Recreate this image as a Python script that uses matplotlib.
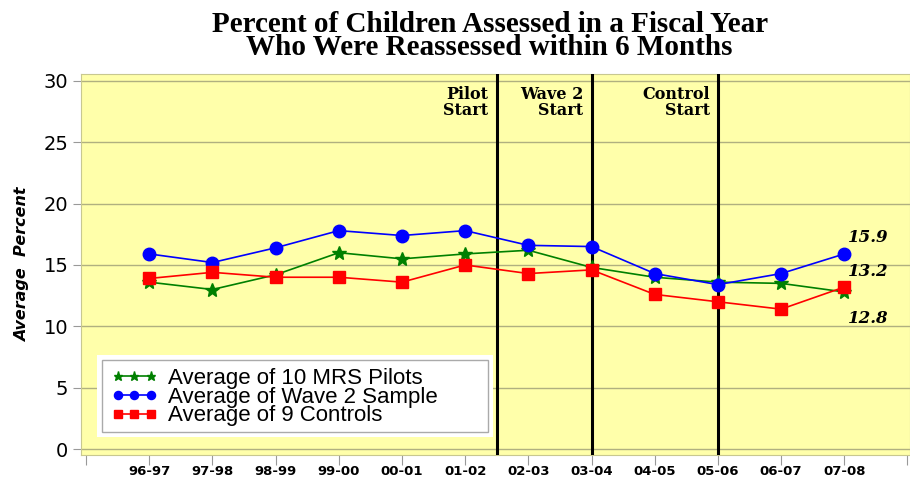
#!/usr/bin/env python3
"""Reassessment within 6 months, by fiscal year."""
import matplotlib

matplotlib.use("Agg", force=True)
import matplotlib.pyplot as plt
from matplotlib.patches import Rectangle
import numpy as np

YEARS = ["96-97", "97-98", "98-99", "99-00", "00-01", "01-02",
         "02-03", "03-04", "04-05", "05-06", "06-07", "07-08"]
PILOTS = [13.6, 13.0, 14.2, 16.0, 15.5, 15.9, 16.2, 14.8, 14.0, 13.6, 13.5, 12.8]
WAVE2 = [15.9, 15.2, 16.4, 17.8, 17.4, 17.8, 16.6, 16.5, 14.3, 13.4, 14.3, 15.9]
CONTROLS = [13.9, 14.4, 14.0, 14.0, 13.6, 15.0, 14.3, 14.6, 12.6, 12.0, 11.4, 13.2]

# vertical markers: position on the year axis and their labels
EVENT_POS = [5.5, 7.0, 9.0]
EVENT_LABELS = ["Pilot\nStart", "Wave 2\nStart", "Control\nStart"]

fig = plt.figure(figsize=(9.1, 4.8), dpi=100)
ax = fig.add_axes([0.089, 0.052, 0.911, 0.794])
ax.set_facecolor("#FFFFAA")
x = np.arange(len(YEARS))

ax.plot(x, PILOTS, color="#008000", marker="*", markersize=10, lw=1.2,
        label="Average of 10 MRS Pilots", zorder=4)
ax.plot(x, WAVE2, color="#0000FF", marker="o", markersize=9, lw=1.2,
        label="Average of Wave 2 Sample", zorder=4)
ax.plot(x, CONTROLS, color="#FF0000", marker="s", markersize=8, lw=1.2,
        label="Average of 9 Controls", zorder=4)

for pos in EVENT_POS:
    ax.axvline(pos, color="black", lw=2.2, zorder=3)
for pos, lab in zip(EVENT_POS, EVENT_LABELS):
    ax.text(pos - 0.13, 29.6, lab, ha="right", va="top", fontsize=11.5,
            fontweight="bold", family="DejaVu Serif", linespacing=0.95)

# end-point labels
last = len(YEARS) - 1
lab_font = dict(fontsize=12, fontweight="bold", style="italic",
                family="DejaVu Serif", ha="left", va="center")
ax.text(last + 0.05, WAVE2[-1] + 1.3, f"{WAVE2[-1]:.1f}", **lab_font)
ax.text(last + 0.05, CONTROLS[-1] + 1.3, f"{CONTROLS[-1]:.1f}", **lab_font)
ax.text(last + 0.05, PILOTS[-1] - 2.2, f"{PILOTS[-1]:.1f}", **lab_font)

ax.set_xlim(-1.08, 12.04)
ax.set_ylim(-0.49, 30.57)
ax.set_yticks(np.arange(0, 31, 5))
ax.set_xticks(np.arange(-1, 13), [""] + YEARS + [""])
ax.tick_params(axis="y", labelsize=14, length=6, color="#999999", pad=3)
ax.tick_params(axis="x", labelsize=9.5, length=7, color="#999999", pad=0.5)
for t in ax.get_xticklabels():
    t.set_fontweight("bold")
ax.grid(axis="y", color="#B0B080", lw=1)
ax.set_axisbelow(True)
for s in ax.spines.values():
    s.set_color("#C8C890")

ax.set_ylabel("Average  Percent", fontsize=11.5, fontweight="bold",
              style="italic", labelpad=10)

fig.suptitle("Percent of Children Assessed in a Fiscal Year\n"
             "Who Were Reassessed within 6 Months",
             x=0.538, y=0.978, fontsize=21, fontweight="bold",
             family="Liberation Serif", linespacing=0.85)

# legend box: white margin + grey-bordered white panel, legend drawn on top
ax.add_patch(Rectangle((0.019, 0.047), 0.478, 0.216, transform=ax.transAxes,
                       facecolor="white", edgecolor="none", zorder=5))
ax.add_patch(Rectangle((0.0255, 0.060), 0.465, 0.189, transform=ax.transAxes,
                       facecolor="white", edgecolor="#AAAAAA", lw=1, zorder=5))
leg = ax.legend(loc="center left", bbox_to_anchor=(0.036, 0.152), numpoints=3,
                handlelength=2.1, handletextpad=0.45, markerscale=0.65,
                borderpad=0.0, borderaxespad=0, labelspacing=-0.1,
                frameon=False, prop={"family": "Liberation Sans", "size": 16})
leg.set_zorder(6)

fig.savefig("out.png", dpi=100)
